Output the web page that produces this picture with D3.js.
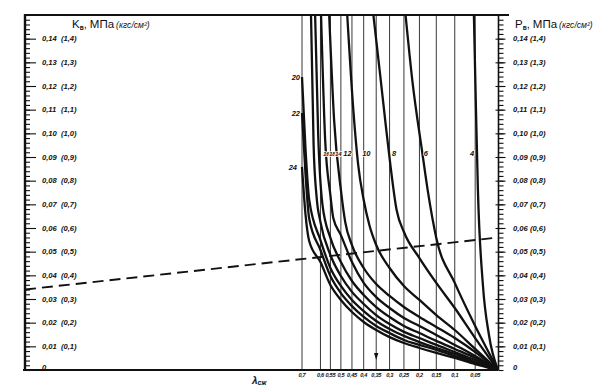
<!DOCTYPE html>
<html><head><meta charset="utf-8">
<script src="https://cdn.jsdelivr.net/npm/d3@7"></script>
<style>body{margin:0;background:#fff}svg{display:block}</style>
</head><body>
<svg id="c" width="602" height="390"></svg>
<script>
// ---- data ----
const lambdaTicks = [0.7,0.6,0.55,0.5,0.45,0.4,0.35,0.3,0.25,0.2,0.15,0.1,0.05];
const lambdaLabels = ["0,7","0,6","0,55","0,5","0,45","0,4","0,35","0,3","0,25","0,2","0,15","0,1","0,05"];
const kTicks = [0,0.01,0.02,0.03,0.04,0.05,0.06,0.07,0.08,0.09,0.10,0.11,0.12,0.13,0.14];
const kLabelsMpa = ["0","0,01","0,02","0,03","0,04","0,05","0,06","0,07","0,08","0,09","0,10","0,11","0,12","0,13","0,14"];
const kLabelsKgf = ["","(0,1)","(0,2)","(0,3)","(0,4)","(0,5)","(0,6)","(0,7)","(0,8)","(0,9)","(1,0)","(1,1)","(1,2)","(1,3)","(1,4)"];
const curveIds = [4,6,8,10,12,14,16,18,20,22,24];
const lam4  = [0.053,0.0484,0.0437,0.0324,0.0191,0];
const val4  = [0.15,0.1120,0.0761,0.0359,0.0148,0];
const lam6  = [0.2446,0.2226,0.1911,0.1751,0.15,0.1,0.05,0];
const val6  = [0.15,0.1225,0.0917,0.0761,0.0558,0.0368,0.0186,0];
const lam8  = [0.361,0.337,0.314,0.297,0.275,0.25,0.2,0.15,0.1,0.05,0];
const val8  = [0.15,0.1268,0.1035,0.0866,0.0676,0.0583,0.0473,0.0368,0.0262,0.0135,0];
const lam10 = [0.471,0.444,0.423,0.4,0.377,0.35,0.3,0.25,0.2,0.15,0.1,0.05,0];
const val10 = [0.15,0.1099,0.0866,0.0718,0.0613,0.0528,0.0431,0.0355,0.0296,0.0232,0.0169,0.0089,0];
const lam12 = [0.556,0.532,0.5,0.48,0.45,0.4,0.35,0.3,0.25,0.2,0.15,0.1,0.05,0];
const val12 = [0.15,0.1056,0.0761,0.0625,0.0528,0.0431,0.0363,0.0313,0.0266,0.0224,0.0182,0.0135,0.0076,0];
const lam14 = [0.597,0.576,0.55,0.536,0.5,0.45,0.4,0.35,0.3,0.25,0.2,0.15,0.1,0.05,0];
const val14 = [0.15,0.0972,0.0739,0.0642,0.0570,0.0456,0.0368,0.0308,0.0262,0.0220,0.0186,0.0148,0.0106,0.0059,0];
const lam16 = [0.628,0.612,0.59,0.55,0.5,0.45,0.4,0.35,0.3,0.25,0.2,0.15,0.1,0.05,0];
const val16 = [0.15,0.100,0.070,0.0558,0.0456,0.0376,0.0317,0.0266,0.0224,0.0186,0.0156,0.0123,0.0089,0.0051,0];
const lam18 = [0.65,0.636,0.62,0.6,0.55,0.5,0.45,0.4,0.35,0.3,0.25,0.2,0.15,0.1,0.05,0];
const val18 = [0.15,0.095,0.073,0.0625,0.0486,0.0397,0.0330,0.0279,0.0232,0.0194,0.0161,0.0135,0.0106,0.0076,0.0042,0];
const lam20 = [0.7,0.68,0.66,0.6,0.55,0.5,0.45,0.4,0.35,0.3,0.25,0.2,0.15,0.1,0.05,0];
const val20 = [0.1238,0.0930,0.072,0.0549,0.0431,0.0355,0.0296,0.0249,0.0207,0.0173,0.0144,0.0118,0.0093,0.0068,0.0034,0];
const lam22 = [0.7,0.68,0.66,0.6,0.55,0.5,0.45,0.4,0.35,0.3,0.25,0.2,0.15,0.1,0.05,0];
const val22 = [0.1086,0.0824,0.064,0.0507,0.0397,0.0325,0.0270,0.0224,0.0186,0.0156,0.0127,0.0106,0.0085,0.0059,0.0030,0];
const lam24 = [0.7,0.68,0.66,0.6,0.55,0.5,0.45,0.4,0.35,0.3,0.25,0.2,0.15,0.1,0.05,0];
const val24 = [0.0858,0.0655,0.0545,0.0456,0.0359,0.0296,0.0245,0.0203,0.0169,0.0139,0.0114,0.0093,0.0072,0.0051,0.0025,0];
const dashK = 0.034;   // K_в at left scale
const dashP = 0.056;   // P_в at right scale
const arrowLam = 0.35;
const labelRowVal = 0.0917;

// ---- layout ----
const svg = d3.select("#c");
const L = 25, R = 498.5, T = 15, B = 370;
const x = d3.scaleSymlog().constant(0.4).domain([0, 0.7]).range([498, 302]);
const y = d3.scaleLinear().domain([0, 0.15]).range([B, T]);
const FONT = "'Liberation Sans', Arial, sans-serif";
const ink = "#111";

svg.append("rect").attr("width",602).attr("height",390).attr("fill","#fff");

// grid (λ lines)
svg.append("g").selectAll("line").data(lambdaTicks).join("line")
  .attr("x1",d=>x(d)).attr("x2",d=>x(d)).attr("y1",T).attr("y2",B)
  .attr("stroke","#222").attr("stroke-width",0.9);

// bottom λ labels
svg.append("g").selectAll("text").data(lambdaTicks).join("text")
  .attr("x",d=>x(d)).attr("y",B+6.5).attr("text-anchor","middle")
  .attr("font-family",FONT).attr("font-size",5.6).attr("letter-spacing",-0.3).attr("font-style","italic").attr("font-weight","bold")
  .attr("fill",ink).text((d,i)=>lambdaLabels[i]);

// curves
const sets = {4:[lam4,val4],6:[lam6,val6],8:[lam8,val8],10:[lam10,val10],12:[lam12,val12],14:[lam14,val14],
  16:[lam16,val16],18:[lam18,val18],20:[lam20,val20],22:[lam22,val22],24:[lam24,val24]};
svg.append("clipPath").attr("id","clip").append("rect").attr("x",L).attr("y",T).attr("width",R-L).attr("height",B-T);
const line = d3.line().x(d=>x(d[0])).y(d=>y(d[1])).curve(d3.curveMonotoneX);
const cg = svg.append("g").attr("clip-path","url(#clip)");
const pts = {};
curveIds.forEach(id=>{
  const [la,va] = sets[id];
  const p = la.map((l,i)=>[l,va[i]]);
  pts[id] = p;
  cg.append("path").attr("d",line(p)).attr("fill","none").attr("stroke",ink)
    .attr("stroke-width",2.3).attr("stroke-linejoin","round");
});

// dashed key line
svg.append("line").attr("x1",L).attr("x2",R).attr("y1",y(dashK)).attr("y2",y(dashP))
  .attr("stroke",ink).attr("stroke-width",1.9).attr("stroke-dasharray","11,6");

// arrow on λ = 0.35
const ax = x(arrowLam);
svg.append("path").attr("d",`M${ax-2.2},${y(0.0072)} L${ax+2.2},${y(0.0072)} L${ax},${y(0.0042)} Z`).attr("fill",ink);

// frame
svg.append("line").attr("x1",L).attr("x2",509).attr("y1",T).attr("y2",T).attr("stroke",ink).attr("stroke-width",2.2);
svg.append("line").attr("x1",L).attr("x2",L).attr("y1",T-1).attr("y2",B+1).attr("stroke",ink).attr("stroke-width",2.4);
svg.append("line").attr("x1",L-2).attr("x2",R).attr("y1",B).attr("y2",B).attr("stroke",ink).attr("stroke-width",2.2);
svg.append("line").attr("x1",R).attr("x2",R).attr("y1",T).attr("y2",B).attr("stroke",ink).attr("stroke-width",1.6);

// axis ticks
const minor = d3.range(0, 0.1501, 0.002);
function ticks(g){ g.selectAll("path.domain").remove(); g.selectAll("line").attr("stroke",ink).attr("stroke-width",1.1); g.selectAll("text").remove(); }
svg.append("g").attr("transform",`translate(${L},0)`).call(d3.axisRight(y).tickValues(minor).tickSize(5)).call(ticks);
svg.append("g").attr("transform",`translate(${L},0)`).call(d3.axisRight(y).tickValues(kTicks.slice(1)).tickSize(11)).call(ticks);
svg.append("g").attr("transform",`translate(${R},0)`).call(d3.axisRight(y).tickValues(minor).tickSize(5)).call(ticks);
svg.append("g").attr("transform",`translate(${R},0)`).call(d3.axisRight(y).tickValues(kTicks.slice(1)).tickSize(7)).call(ticks);
svg.append("g").attr("transform",`translate(${R},0)`).call(d3.axisLeft(y).tickValues(kTicks.slice(1)).tickSize(3)).call(ticks);

// axis labels
function axisLabels(x0, x1){
  const g = svg.append("g").attr("font-family",FONT).attr("font-size",7.6).attr("font-style","italic")
    .attr("font-weight","bold").attr("fill",ink);
  g.selectAll("text.a").data(kTicks).join("text").attr("class","a")
    .attr("x",x0).attr("y",d=>y(d)+ (d===0 ? 0 : 2.8)).text((d,i)=>kLabelsMpa[i]);
  g.selectAll("text.b").data(kTicks).join("text").attr("class","b")
    .attr("x",x1).attr("y",d=>y(d)+2.8).text((d,i)=>kLabelsKgf[i]);
}
axisLabels(42, 61);
axisLabels(513, 530);

// axis titles
function title(xp){
  return svg.append("text").attr("x",xp).attr("y",28).attr("font-family",FONT).attr("fill",ink);
}
function fillTitle(t, letter){
  t.append("tspan").attr("font-size",11.5).text(letter);
  t.append("tspan").attr("font-size",6.5).attr("font-weight","bold").attr("dy",2).text("в");
  t.append("tspan").attr("font-size",11).attr("dy",-2).text(", ");
  t.append("tspan").attr("font-size",11.5).text("МПа");
  t.append("tspan").attr("font-size",8.6).attr("font-style","italic").attr("dx",2).text("(кгс/см²)");
}
fillTitle(title(72), "K");
fillTitle(title(515), "P");

// λсж caption
const lc = svg.append("text").attr("x",252).attr("y",384).attr("font-family",FONT)
  .attr("font-style","italic").attr("font-weight","bold").attr("fill",ink);
lc.append("tspan").attr("font-size",10).text("λ");
lc.append("tspan").attr("font-size",7).attr("dy",0.5).text("сж");

// curve labels
function xAtVal(p, v){
  for(let i=0;i<p.length-1;i++){
    const a=p[i], b=p[i+1];
    if((a[1]-v)*(b[1]-v)<=0 && a[1]!==b[1]){
      const t=(v-a[1])/(b[1]-a[1]);
      return x(a[0]) + t*(x(b[0])-x(a[0]));
    }
  }
  return x(p[0][0]);
}
const lg = svg.append("g").attr("font-family",FONT).attr("font-size",7.5).attr("font-style","italic")
  .attr("font-weight","bold").attr("fill",ink)
  .attr("stroke","#fff").attr("stroke-width",1.6).attr("paint-order","stroke").attr("stroke-linejoin","round");
[[20,-2],[22,-2],[24,-5]].forEach(([id,dx])=>{
  const p = pts[id][0];
  lg.append("text").attr("x",x(p[0])+dx).attr("y",y(p[1])+3).attr("text-anchor","end").text(id);
});
const rowDx = {4:-7,6:1.5,8:3,10:5,12:6};
[4,6,8,10,12].forEach(id=>{
  lg.append("text").attr("x",xAtVal(pts[id],labelRowVal)+rowDx[id]).attr("y",y(labelRowVal)+3).text(id);
});
// clustered labels to the right of curves 18, 16, 14
const x14 = xAtVal(pts[14],labelRowVal);
[[16,-3.5],[18,2.5],[14,8.5]].forEach(([id,dx])=>{
  lg.append("text").attr("x",x14+dx).attr("y",y(labelRowVal)+3).attr("font-size",6.2).text(id);
});
</script>
</body></html>
